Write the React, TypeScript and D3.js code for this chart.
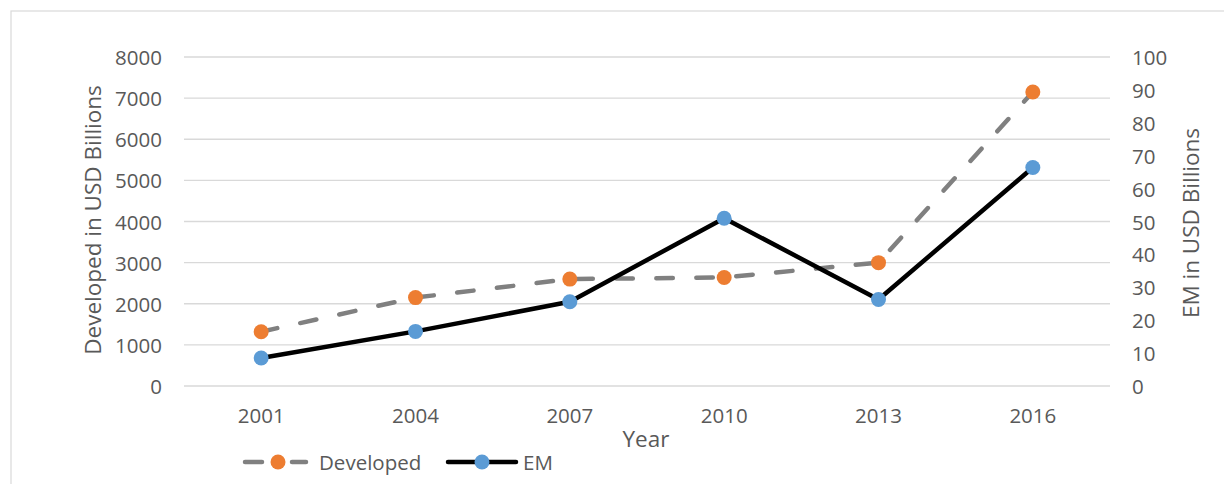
import React from "react";
import * as d3 from "d3";

const years = ["2001", "2004", "2007", "2010", "2013", "2016"];
const developed = [1320, 2150, 2600, 2640, 3000, 7150];
const em = [8.5, 16.6, 25.6, 51, 26.3, 66.4];
const leftTicks = [0, 1000, 2000, 3000, 4000, 5000, 6000, 7000, 8000];
const rightTicks = [0, 10, 20, 30, 40, 50, 60, 70, 80, 90, 100];

const W = 1224;
const H = 484;
const FONT = "'Open Sans', 'Noto Sans', sans-serif";
const TXT = "#595959";
const TICK_FS = 20.5;
const TITLE_FS = 22.5;

export default function App() {
  const x = d3.scaleBand<string>().domain(years).range([184, 1110]);
  const yL = d3.scaleLinear().domain([0, 8000]).range([386, 57]);
  const yR = d3.scaleLinear().domain([0, 100]).range([386, 57]);
  const cx = (d: string) => (x(d) as number) + x.bandwidth() / 2;

  const devLine = d3
    .line<number>()
    .x((_, i) => cx(years[i]))
    .y((v) => yL(v))(developed) as string;
  const emLine = d3
    .line<number>()
    .x((_, i) => cx(years[i]))
    .y((v) => yR(v))(em) as string;

  return (
    <svg
      width={W}
      height={H}
      style={{ position: "absolute", left: 0, top: 0, background: "#fff" }}
      fontFamily={FONT}
    >
      <rect x={11} y={11} width={1230} height={490} fill="#fff" stroke="#D9D9D9" strokeWidth={1.2} />
      {leftTicks.map((t) => (
        <line key={"g" + t} x1={184} x2={1110} y1={yL(t)} y2={yL(t)} stroke="#D9D9D9" strokeWidth={1.3} />
      ))}
      {leftTicks.map((t) => (
        <text key={"l" + t} x={162} y={yL(t)} textAnchor="end" dominantBaseline="central" fontSize={TICK_FS} fill={TXT}>
          {t}
        </text>
      ))}
      {rightTicks.map((t) => (
        <text key={"r" + t} x={1132} y={yR(t)} textAnchor="start" dominantBaseline="central" fontSize={TICK_FS} fill={TXT}>
          {t}
        </text>
      ))}
      {years.map((y) => (
        <text key={"x" + y} x={cx(y)} y={415} textAnchor="middle" dominantBaseline="central" fontSize={TICK_FS} fill={TXT}>
          {y}
        </text>
      ))}
      <text x={646} y={438} textAnchor="middle" dominantBaseline="central" fontSize={TITLE_FS} fill={TXT}>
        Year
      </text>
      <text
        transform="translate(92,220) rotate(-90)"
        textAnchor="middle"
        dominantBaseline="central"
        fontSize={TITLE_FS}
        fill={TXT}
      >
        Developed in USD Billions
      </text>
      <text
        transform="translate(1190,223) rotate(-90)"
        textAnchor="middle"
        dominantBaseline="central"
        fontSize={TITLE_FS}
        fill={TXT}
      >
        EM in USD Billions
      </text>

      <path
        d={devLine}
        fill="none"
        stroke="#808080"
        strokeWidth={4.5}
        strokeDasharray="16.5 23.5"
        strokeLinecap="round"
      />
      <path d={emLine} fill="none" stroke="#000" strokeWidth={4.5} strokeLinejoin="round" />
      {developed.map((v, i) => (
        <circle key={"d" + i} cx={cx(years[i])} cy={yL(v)} r={7.5} fill="#ED7D31" />
      ))}
      {em.map((v, i) => (
        <circle key={"e" + i} cx={cx(years[i])} cy={yR(v)} r={7.5} fill="#5B9BD5" />
      ))}

      {/* legend */}
      <line x1={245} x2={262} y1={462} y2={462} stroke="#808080" strokeWidth={4.5} strokeLinecap="round" />
      <line x1={292} x2={306} y1={462} y2={462} stroke="#808080" strokeWidth={4.5} strokeLinecap="round" />
      <circle cx={278} cy={462} r={7.5} fill="#ED7D31" />
      <text x={319} y={462} dominantBaseline="central" fontSize={TICK_FS} fill={TXT}>
        Developed
      </text>
      <line x1={448} x2={516} y1={462} y2={462} stroke="#000" strokeWidth={4.5} strokeLinecap="round" />
      <circle cx={482} cy={462} r={7.5} fill="#5B9BD5" />
      <text x={523} y={462} dominantBaseline="central" fontSize={TICK_FS} fill={TXT}>
        EM
      </text>
    </svg>
  );
}
